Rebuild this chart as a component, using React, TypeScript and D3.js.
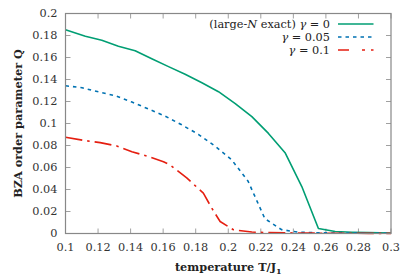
import React, { useEffect, useRef } from "react";
import * as d3 from "d3";

// Q(T) curves
const tGreen = [0.1, 0.1122, 0.1223, 0.1325, 0.1428, 0.153, 0.1633, 0.1735, 0.1838, 0.194, 0.2043, 0.2145, 0.2247, 0.2349, 0.2452, 0.2554, 0.2657, 0.276, 0.2862, 0.3];
const qGreen = [0.1852, 0.1794, 0.1757, 0.1703, 0.1661, 0.1588, 0.1517, 0.1448, 0.137, 0.1289, 0.1181, 0.1062, 0.091, 0.0735, 0.0427, 0.0045, 0.0018, 0.0012, 0.0008, 0.0005];

const tBlue = [0.1, 0.1102, 0.1204, 0.1306, 0.1408, 0.151, 0.1612, 0.1714, 0.1816, 0.1918, 0.202, 0.2122, 0.2225, 0.2327, 0.2429, 0.2531, 0.2633, 0.2735, 0.2837, 0.3];
const qBlue = [0.1343, 0.1325, 0.1287, 0.1252, 0.1195, 0.1132, 0.1067, 0.0988, 0.0902, 0.0795, 0.0672, 0.0475, 0.0135, 0.0035, 0.0012, 0.0007, 0.0005, 0.0004, 0.0003, 0.0002];

const tRed = [0.1, 0.1122, 0.1213, 0.1315, 0.1408, 0.151, 0.1602, 0.1643, 0.1745, 0.1847, 0.1899, 0.195, 0.2032, 0.2145, 0.2247, 0.2349, 0.2452, 0.2554, 0.2657, 0.276, 0.2862, 0.3];
const qRed = [0.0875, 0.0844, 0.0826, 0.0796, 0.0744, 0.0699, 0.0653, 0.0623, 0.0505, 0.0367, 0.023, 0.0109, 0.0034, 0.0013, 0.0008, 0.0006, 0.0004, 0.0003, 0.0002, 0.0002, 0.0001, 0.0001];

const xTicks = [0.1, 0.12, 0.14, 0.16, 0.18, 0.2, 0.22, 0.24, 0.26, 0.28, 0.3];
const yTicks = [0, 0.02, 0.04, 0.06, 0.08, 0.1, 0.12, 0.14, 0.16, 0.18, 0.2];

const series = [
  { t: tGreen, q: qGreen, color: "#009e73", dash: null, legendDash: null },
  { t: tBlue, q: qBlue, color: "#0072b2", dash: "3.5 4", legendDash: "3.5 4" },
  { t: tRed, q: qRed, color: "#e51e10", dash: "17 5 2.5 5", legendDash: "11 13 3 6 3 10" },
];

const W = 415;
const H = 277;
const FONT = "'DejaVu Serif', serif";
const FS = 11.3;

export default function App() {
  const ref = useRef<SVGSVGElement>(null);

  useEffect(() => {
    const svg = d3.select(ref.current);
    svg.selectAll("*").remove();

    const margin = { top: 13.5, right: 24, bottom: 43.5, left: 65.5 };
    const w = W - margin.left - margin.right;
    const h = H - margin.top - margin.bottom;

    const x = d3.scaleLinear().domain([0.1, 0.3]).range([0, w]);
    const y = d3.scaleLinear().domain([0, 0.2]).range([h, 0]);

    const g = svg.append("g").attr("transform", `translate(${margin.left},${margin.top})`);

    // ticks on all four sides, pointing inward
    const ax = g.append("g").attr("stroke", "#a0a0a0").attr("stroke-width", 1);
    xTicks.forEach((v) => {
      ax.append("line").attr("x1", x(v)).attr("x2", x(v)).attr("y1", h).attr("y2", h - 5);
      ax.append("line").attr("x1", x(v)).attr("x2", x(v)).attr("y1", 0).attr("y2", 5);
    });
    yTicks.forEach((v) => {
      ax.append("line").attr("x1", 0).attr("x2", 5).attr("y1", y(v)).attr("y2", y(v));
      ax.append("line").attr("x1", w).attr("x2", w - 5).attr("y1", y(v)).attr("y2", y(v));
    });

    g.selectAll(".xl")
      .data(xTicks)
      .join("text")
      .attr("x", (d) => x(d))
      .attr("y", h + 17)
      .attr("text-anchor", "middle")
      .attr("font-family", FONT)
      .attr("font-size", FS)
      .attr("fill", "#333")
      .text((d) => String(d));

    g.selectAll(".yl")
      .data(yTicks)
      .join("text")
      .attr("x", -8)
      .attr("y", (d) => y(d))
      .attr("dy", "0.35em")
      .attr("text-anchor", "end")
      .attr("font-family", FONT)
      .attr("font-size", FS)
      .attr("fill", "#333")
      .text((d) => String(d));

    // curves
    series.forEach((s) => {
      const pts = s.t.map((t, i) => [t, s.q[i]] as [number, number]);
      const line = d3.line<[number, number]>().x((d) => x(d[0])).y((d) => y(d[1]));
      g.append("path")
        .attr("d", line(pts))
        .attr("fill", "none")
        .attr("stroke", s.color)
        .attr("stroke-width", 1.6)
        .attr("stroke-dasharray", s.dash)
        .attr("stroke-linejoin", "round");
    });

    // frame
    g.append("rect")
      .attr("width", w).attr("height", h)
      .attr("fill", "none").attr("stroke", "#888").attr("stroke-width", 1.2);

    // legend
    const lg = g.append("g").attr("font-family", FONT).attr("font-size", FS).attr("fill", "#222");
    const rows = [
      { s: series[0], parts: [["(large-", "normal"], ["N", "italic"], [" exact) ", "normal"], ["γ", "italic"], [" = 0", "normal"]] },
      { s: series[1], parts: [["γ", "italic"], [" = 0.05", "normal"]] },
      { s: series[2], parts: [["γ", "italic"], [" = 0.1", "normal"]] },
    ];
    rows.forEach((r, i) => {
      const yy = 10.5 + i * 13;
      const txt = lg.append("text").attr("x", 264.5).attr("y", yy).attr("dy", "0.35em").attr("text-anchor", "end");
      r.parts.forEach(([str, style]) => {
        txt.append("tspan").attr("font-style", style).text(str);
      });
      lg.append("line")
        .attr("x1", 272.5).attr("x2", 308)
        .attr("y1", yy).attr("y2", yy)
        .attr("stroke", r.s.color)
        .attr("stroke-width", 1.6)
        .attr("stroke-dasharray", r.s.legendDash);
    });

    // axis titles
    svg.append("text")
      .attr("x", margin.left + w / 2)
      .attr("y", 271)
      .attr("text-anchor", "middle")
      .attr("font-family", FONT)
      .attr("font-weight", "bold")
      .attr("font-size", FS)
      .attr("fill", "#222")
      .call((t) => {
        t.append("tspan").text("temperature T/J");
        t.append("tspan").attr("font-size", 8).attr("dy", 3).text("1");
      });

    svg.append("text")
      .attr("transform", `translate(22,${margin.top + h / 2}) rotate(-90)`)
      .attr("text-anchor", "middle")
      .attr("font-family", FONT)
      .attr("font-weight", "bold")
      .attr("font-size", FS)
      .attr("fill", "#222")
      .text("BZA order parameter Q");
  }, []);

  return (
    <svg
      ref={ref}
      width={W}
      height={H}
      style={{ position: "absolute", left: 0, top: 0, background: "#fff" }}
    />
  );
}
